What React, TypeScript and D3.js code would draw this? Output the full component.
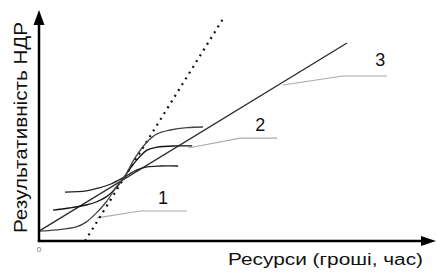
import * as d3 from "d3";

type Pt = [number, number];

// S-shaped curves (resources, result)
const curveSteep: Pt[] = [
  [0, 3.3], [4.3, 3.7], [9.3, 4.7], [11.8, 6.3], [14.3, 9.3], [16.8, 13],
  [19.3, 18], [21.3, 21.3], [24, 27.7], [27, 33], [29.5, 35.7], [32.8, 37],
  [37, 37.8], [41, 38],
];
const curveMiddle: Pt[] = [
  [3.5, 10.3], [7.5, 11], [11.8, 12], [14.3, 13], [16.8, 14.7], [19.3, 17.7],
  [21.3, 21.3], [24, 26.3], [27, 30.3], [29.5, 31.3], [34.5, 31.7], [38.3, 31.7],
];
const curveFlat: Pt[] = [
  [6.5, 16.3], [11.8, 16.7], [15, 17.7], [18, 19], [21.3, 21.3], [24.5, 23.7],
  [27, 24.7], [30.3, 25], [34.8, 25],
];
const straightLine: Pt[] = [[0, 3.3], [77, 66]];
const dottedLine: Pt[] = [[11.5, 0], [46.3, 74.7]];

// leader lines and their labels
const leaders: Pt[][] = [
  [[14.5, 7.7], [25.3, 10], [37, 10]],
  [[37.3, 31], [50.3, 34.3], [59.5, 34.3]],
  [[61, 52], [76, 55], [87, 55]],
];
const labels = ["1", "2", "3"];
const labelPos: Pt[] = [[31, 12.5], [55.3, 36.8], [85.3, 58.2]];

const yTitle = "Результативність НДР";
const xTitle = "Ресурси (гроші, час)";

const width = 436;
const height = 272;

export default function App() {
  const x = d3.scaleLinear().domain([0, 99]).range([39, 435]);
  const y = d3.scaleLinear().domain([0, 77]).range([241, 10]);

  const smooth = d3
    .line<Pt>()
    .x((d) => x(d[0]))
    .y((d) => y(d[1]))
    .curve(d3.curveCatmullRom);
  const straight = d3
    .line<Pt>()
    .x((d) => x(d[0]))
    .y((d) => y(d[1]));

  const x0 = x(0);
  const y0 = y(0);
  const font = "'Liberation Sans', Arial, sans-serif";

  return (
    <svg
      width={width}
      height={height}
      style={{ position: "absolute", left: 0, top: 0, background: "#fff" }}
    >
      {/* leaders */}
      {leaders.map((l, i) => (
        <path key={i} d={straight(l) || ""} fill="none" stroke="#aaa" strokeWidth={1.1} />
      ))}

      <path d={straight(dottedLine) || ""} fill="none" stroke="#111" strokeWidth={2.2} strokeDasharray="2,4.8" />
      <path d={straight(straightLine) || ""} fill="none" stroke="#2a2a2a" strokeWidth={1.3} />
      <path d={smooth(curveFlat) || ""} fill="none" stroke="#222" strokeWidth={1.3} />
      <path d={smooth(curveMiddle) || ""} fill="none" stroke="#111" strokeWidth={1.3} />
      <path d={smooth(curveSteep) || ""} fill="none" stroke="#444" strokeWidth={1.3} />

      {labels.map((t, i) => (
        <text
          key={t}
          x={x(labelPos[i][0])}
          y={y(labelPos[i][1])}
          textAnchor="middle"
          fontFamily={font}
          fontSize={18}
          fill="#111"
        >
          {t}
        </text>
      ))}

      {/* axes */}
      <line x1={x0} y1={y0} x2={x0} y2={22} stroke="#000" strokeWidth={2.5} />
      <path d={`M${x0},10 L${x0 - 5.5},25 L${x0 + 5.5},25 Z`} fill="#000" />
      <line x1={x0 - 1.25} y1={y0} x2={424} y2={y0} stroke="#000" strokeWidth={2.5} />
      <path d={`M436,${y0} L421,${y0 - 5} L421,${y0 + 5} Z`} fill="#000" />

      <text x={x0} y={y0 + 11} textAnchor="middle" fontFamily={font} fontSize={8} fill="#777">
        0
      </text>

      <text
        transform={`translate(26.5,233) rotate(-90)`}
        fontFamily={font}
        fontSize={18}
        textLength={211}
        lengthAdjust="spacingAndGlyphs"
        fill="#111"
      >
        {yTitle}
      </text>
      <text
        x={228}
        y={265}
        fontFamily={font}
        fontSize={16}
        textLength={195}
        lengthAdjust="spacingAndGlyphs"
        fill="#111"
      >
        {xTitle}
      </text>
    </svg>
  );
}
